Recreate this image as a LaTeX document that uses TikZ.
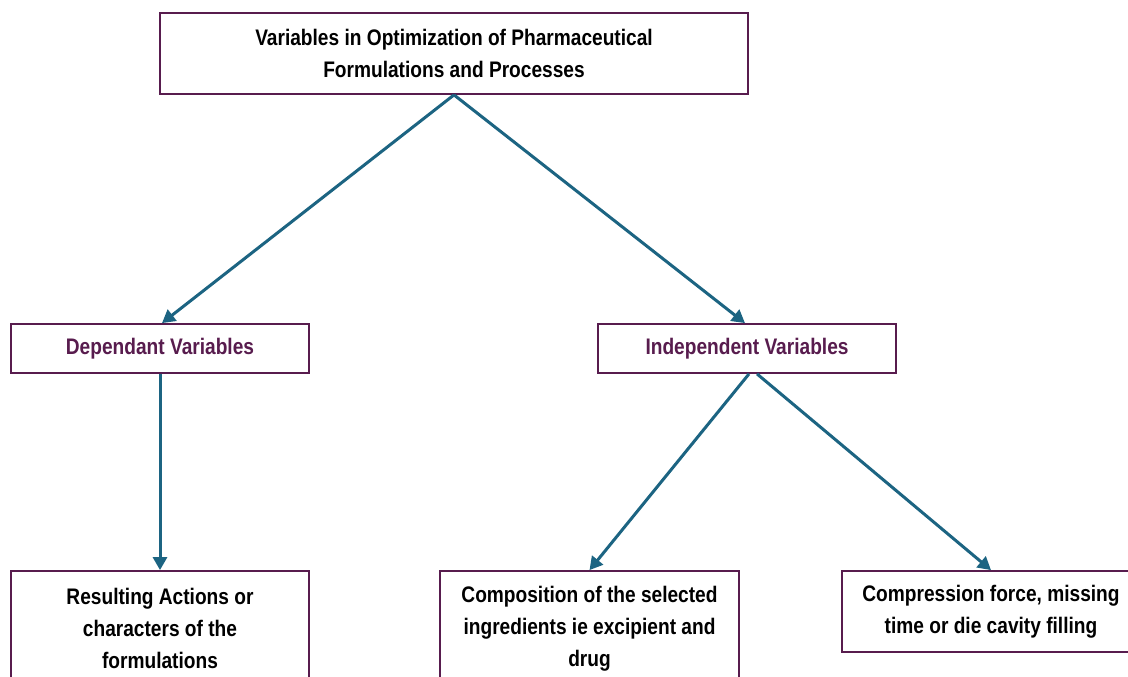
\documentclass[tikz,border=0pt]{standalone}
\usepackage{fontspec}
\setmainfont{Liberation Sans}[FakeStretch=0.85]
\usetikzlibrary{arrows.meta}
\definecolor{boxc}{RGB}{88,28,78}
\definecolor{arrc}{RGB}{28,100,130}
\definecolor{txtp}{RGB}{88,28,78}
\begin{document}
\begin{tikzpicture}[x=1pt,y=-1pt,
  box/.style={draw=boxc, line width=1.8pt, fill=white, align=center, inner sep=0pt,
    font=\bfseries\fontsize{22.5}{32}\selectfont},
  arr/.style={draw=arrc, line width=3pt, -{Triangle[length=13pt,width=14pt]}}]
\useasboundingbox (0,0) rectangle (1128,677);
\clip (0,0) rectangle (1128,677);
\fill[white] (0,0) rectangle (1128,677);
\node[box, minimum width=588pt, minimum height=81pt] (top) at (454,53.5)
  {Variables in Optimization of Pharmaceutical\\Formulations and Processes};
\node[box, minimum width=298pt, minimum height=49pt, text=txtp] (dep) at (160,348.5)
  {Dependant Variables};
\node[box, minimum width=298pt, minimum height=49pt, text=txtp] (ind) at (747,348.5)
  {Independent Variables};
\node[box, minimum width=298pt, minimum height=115pt] (res) at (160,628.5)
  {Resulting Actions or\\characters of the\\formulations};
\node[box, minimum width=299pt, minimum height=115pt] (comp) at (589.5,628.5)
  {Composition of the selected\\ingredients ie excipient and\\drug};
\node[box, minimum width=298pt, minimum height=81pt] (cf) at (991,611.5)
  {Compression force, missing\\time or die cavity filling};
\draw[arr] (top.south) -- ([xshift=2pt]dep.north);
\draw[arr] (top.south) -- ([xshift=-2pt]ind.north);
\draw[arr] (dep.south) -- (res.north);
\draw[arr] ([xshift=2pt]ind.south) -- (comp.north);
\draw[arr] ([xshift=10pt]ind.south) -- (cf.north);
\end{tikzpicture}
\end{document}
